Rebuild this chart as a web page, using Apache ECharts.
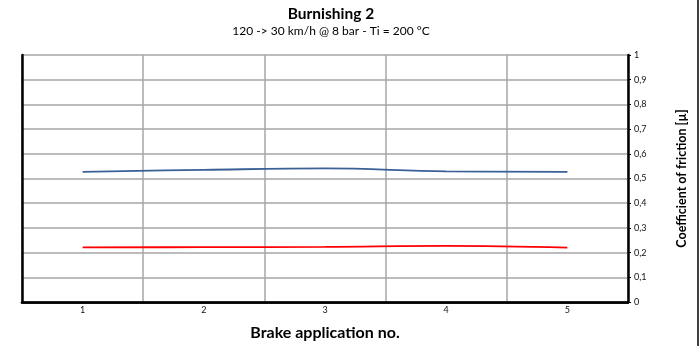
<!DOCTYPE html>
<html>
<head>
<meta charset="utf-8">
<script src="https://cdn.jsdelivr.net/npm/echarts@6/dist/echarts.min.js"></script>
<style>
  html, body { margin: 0; padding: 0; background: #fff; }
  #chart { width: 700px; height: 346px; }
</style>
</head>
<body>
<div id="chart"></div>
<script>
// brake applications
var categories = ['1', '2', '3', '4', '5'];
// coefficient of friction, upper (blue) and lower (red) curves
var blueValues = [0.527, 0.535, 0.541, 0.529, 0.527];
var redValues = [0.221, 0.222, 0.223, 0.227, 0.220];

var font = 'Lato, "Open Sans", sans-serif';
var frame = { show: true, lineStyle: { color: '#000', width: 2.5 } };

var chart = echarts.init(document.getElementById('chart'));
chart.setOption({
  animation: false,
  backgroundColor: '#fff',
  textStyle: { fontFamily: font },
  title: {
    text: 'Burnishing 2',
    subtext: '120 -> 30 km/h @ 8 bar - Ti = 200 °C',
    left: 326,
    textAlign: 'center',
    top: 1,
    itemGap: 3,
    textStyle: { fontSize: 15.5, fontWeight: 'bold', color: '#000', fontFamily: font },
    subtextStyle: { fontSize: 12, color: '#000', fontFamily: font }
  },
  grid: {
    left: 22,
    right: 72,
    top: 55,
    bottom: 36
  },
  xAxis: [
    {
      type: 'category',
      data: categories,
      boundaryGap: true,
      name: 'Brake application no.',
      nameLocation: 'middle',
      nameGap: 23,
      nameTextStyle: { fontSize: 16, fontWeight: 'bold', color: '#000' },
      axisLine: frame,
      axisTick: { show: false },
      axisLabel: { fontSize: 9, color: '#111', margin: 4 },
      splitLine: {
        show: true, interval: 0,
        lineStyle: { color: '#a6a6a6', width: 1.5 }
      },
      z: 1
    },
    {
      // top frame edge
      type: 'category',
      data: categories,
      position: 'top',
      axisLine: frame,
      axisTick: { show: false },
      axisLabel: { show: false },
      splitLine: { show: false },
      z: 3
    }
  ],
  yAxis: [
    {
      type: 'value',
      position: 'right',
      min: 0,
      max: 1,
      interval: 0.1,
      name: 'Coefficient of friction [µ]',
      nameLocation: 'middle',
      nameRotate: 90,
      nameGap: 47,
      nameTextStyle: { fontSize: 12.5, fontWeight: 'bold', color: '#000' },
      axisLine: frame,
      axisTick: { show: true, length: 3, lineStyle: { color: '#000' } },
      axisLabel: {
        fontSize: 9,
        color: '#111',
        margin: 6,
        formatter: function (v) { return String(Math.round(v * 10) / 10).replace('.', ','); }
      },
      splitLine: {
        show: true,
        lineStyle: { color: '#a6a6a6', width: 1.5 }
      },
      z: 3
    },
    {
      // left frame edge
      type: 'value',
      position: 'left',
      min: 0,
      max: 1,
      interval: 0.1,
      axisLine: frame,
      axisTick: { show: false },
      axisLabel: { show: false },
      splitLine: { show: false },
      z: 3
    }
  ],
  series: [
    {
      type: 'line',
      data: blueValues,
      smooth: 0.4,
      showSymbol: false,
      lineStyle: { color: '#3a6096', width: 1.8 },
      itemStyle: { color: '#3a6096' }
    },
    {
      type: 'line',
      data: redValues,
      smooth: 0.4,
      showSymbol: false,
      lineStyle: { color: '#ff0000', width: 1.8 },
      itemStyle: { color: '#ff0000' }
    }
  ],
  graphic: [
    {
      type: 'line',
      shape: { x1: 698, y1: 0, x2: 698, y2: 346 },
      style: { stroke: '#000', lineWidth: 1.5 }
    }
  ]
});
</script>
</body>
</html>
